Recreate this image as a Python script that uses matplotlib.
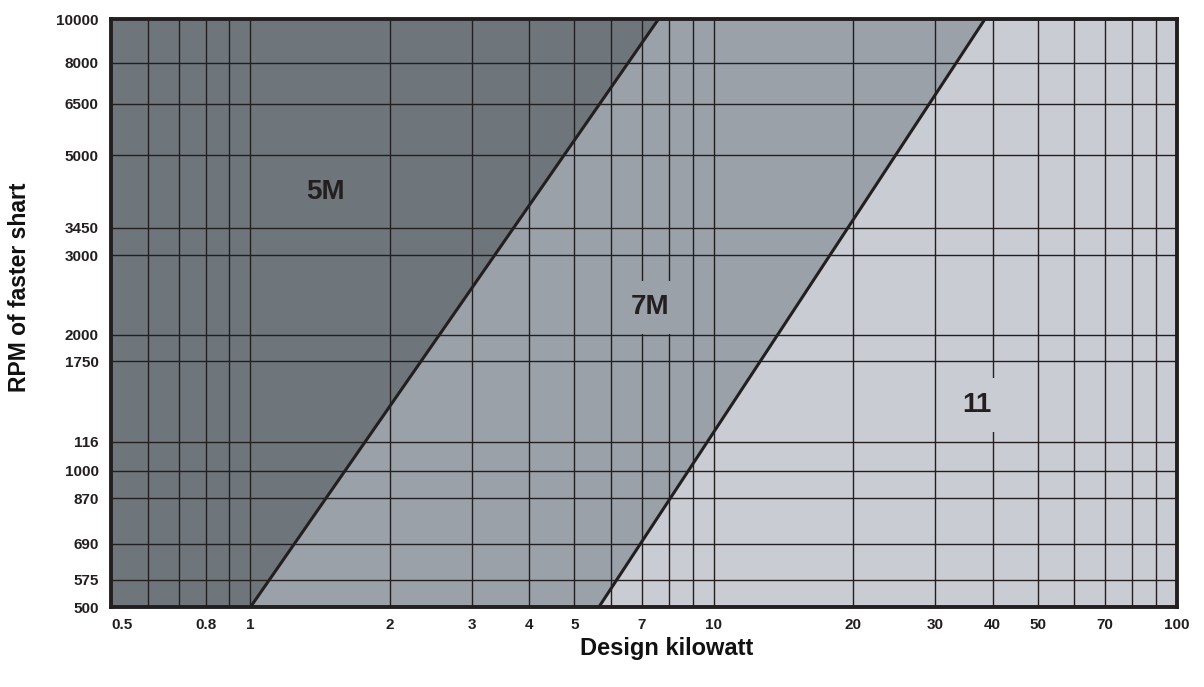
import matplotlib.pyplot as plt
import numpy as np

plt.rcParams['font.family'] = ['Liberation Sans', 'DejaVu Sans']
plt.rcParams['font.weight'] = 'bold'

# Axis ranges
x_range = [0.5, 100]
y_range = [500, 10000]

# Labelled ticks
x_ticks = [0.5, 0.8, 1, 2, 3, 4, 5, 7, 10, 20, 30, 40, 50, 70, 100]
x_tick_labels = ['0.5', '0.8', '1', '2', '3', '4', '5', '7', '10', '20', '30', '40', '50', '70', '100']
y_ticks = [500, 575, 690, 870, 1000, 1160, 1750, 2000, 3000, 3450, 5000, 6500, 8000, 10000]
y_tick_labels = ['500', '575', '690', '870', '1000', '116', '1750', '2000', '3000', '3450',
                 '5000', '6500', '8000', '10000']

# Extra unlabelled grid lines
x_grid_extra = [0.6, 0.7, 0.9, 6, 8, 9, 60, 80, 90]

# Belt section boundaries (kW at 500 rpm, kW at 10000 rpm)
bound_5m_7m_x = [1.0, 7.6]
bound_7m_11_x = [5.65, 38.5]
bound_y = [500, 10000]

# Region labels
region_names = ['5M', '7M', '11']
region_x = [1.45, 7.3, 37.0]
region_y = [4150, 2300, 1400]
region_colors = ['#6e757b', '#9aa1a8', '#c9ccd3']

fig = plt.figure(figsize=(12.04, 6.87), dpi=100)
ax = fig.add_axes([0.0922, 0.1164, 0.8854, 0.8559])
ax.set_xscale('log')
ax.set_yscale('log')
ax.set_xlim(x_range)
ax.set_ylim(y_range)
ax.set_facecolor(region_colors[2])

# Shaded regions
ax.fill_betweenx(bound_y, [x_range[0]] * 2, bound_5m_7m_x,
                 color=region_colors[0], lw=0, zorder=0.5)
ax.fill_betweenx(bound_y, bound_5m_7m_x, bound_7m_11_x,
                 color=region_colors[1], lw=0, zorder=0.5)

# Ticks and grid
ax.set_xticks(x_ticks)
ax.set_xticklabels(x_tick_labels)
ax.set_xticks(x_grid_extra, minor=True)
ax.set_yticks(y_ticks)
ax.set_yticklabels(y_tick_labels)
ax.yaxis.set_minor_locator(plt.NullLocator())
ax.tick_params(which='both', length=0, labelsize=11, colors='#231f20')
ax.tick_params(axis='x', pad=8)
ax.tick_params(axis='y', pad=9)
ax.grid(True, which='both', color='#231f20', lw=1.0, zorder=1)
ax.set_axisbelow(False)
ax.get_xticklabels()[0].set_ha('left')

# Boundary lines
ax.plot(bound_5m_7m_x, bound_y, color='#231f20', lw=2.2, zorder=3, solid_capstyle='butt')
ax.plot(bound_7m_11_x, bound_y, color='#231f20', lw=2.2, zorder=3, solid_capstyle='butt')

for name, x, y, c in zip(region_names, region_x, region_y, region_colors):
    ax.text(x, y, name, fontsize=20, fontweight='bold', color='#231f20',
            ha='center', va='center', zorder=4,
            bbox=dict(facecolor=c, edgecolor='none', pad=10))

for sp in ax.spines.values():
    sp.set_linewidth(2.8)
    sp.set_color('#231f20')
    sp.set_zorder(5)

fig.text(667 / 1204, 1 - 649 / 687, 'Design kilowatt', fontsize=17, fontweight='bold',
         ha='center', va='center', color='#111111')
fig.text(20 / 1204, 1 - 287 / 687, 'RPM of faster shart', fontsize=16.5, fontweight='bold',
         rotation=90, ha='center', va='center', color='#111111')

fig.savefig('out.png', dpi=100, facecolor='white')
